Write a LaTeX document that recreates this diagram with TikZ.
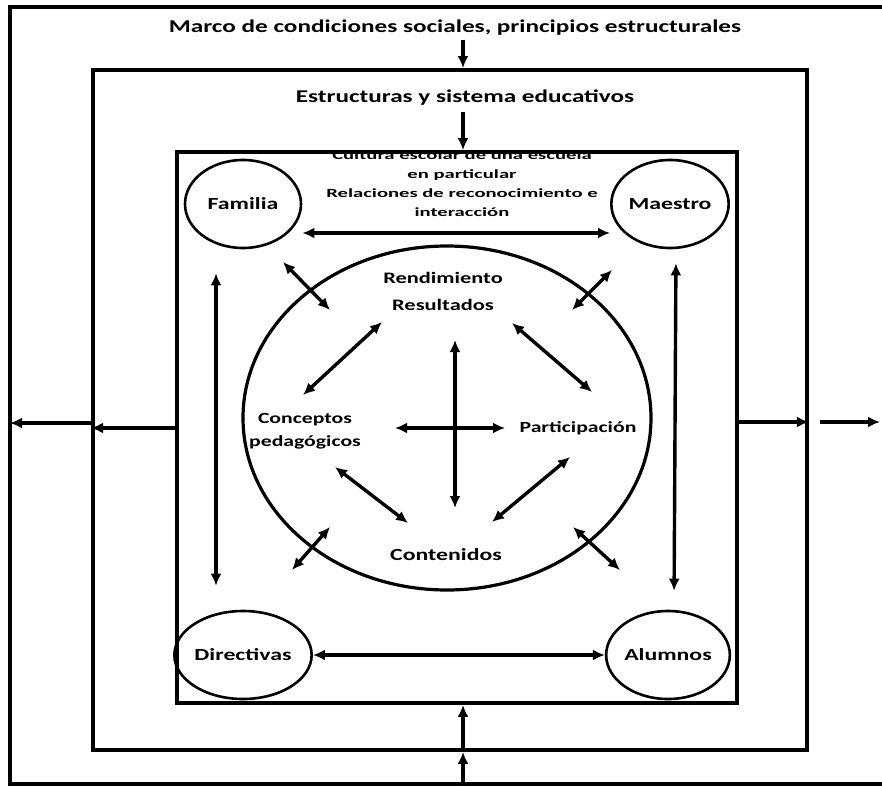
\documentclass[tikz,border=0pt]{standalone}
\usepackage{fontspec}
\setmainfont{Carlito}[FakeStretch=1.4]
\newfontfamily\cultfont{Carlito}[FakeStretch=1.65]
\usetikzlibrary{arrows.meta,shapes.geometric,calc}

\begin{document}
\begin{tikzpicture}[x=1pt,y=-1pt,>={Latex[length=12pt,width=11pt]},
    frame/.style={draw,line width=3.8pt,inner sep=0pt},
    actor/.style={ellipse,draw,line width=2.6pt,minimum width=116pt,minimum height=88pt,inner sep=0pt,font=\bfseries\fontsize{17}{20}\selectfont},
    lbl/.style={inner sep=0pt,font=\bfseries\fontsize{18}{21}\selectfont},
    inlbl/.style={inner sep=0pt,align=center,font=\bfseries\fontsize{16}{27}\selectfont},
    link/.style={<->,line width=3.4pt},
    flow/.style={->,line width=3.4pt}]
    \useasboundingbox (0,0) rectangle (882,786);

    % marcos
    \coordinate (otl) at (10,7);
    \coordinate (obl) at (10,784);
    \draw[line width=3.4pt] (882,7) -- (otl) -- (obl) -- (882,784);
    \node[frame,minimum width=714pt,minimum height=680pt] (middle) at (450,410) {};
    \node[frame,minimum width=560pt,minimum height=551pt] (inner) at (457,427.5) {};

    \node[lbl] (marco) at (455,28) {Marco de condiciones sociales, principios estructurales};
    \node[lbl] (estr) at (465,98) {Estructuras y sistema educativos};
    \node[inner sep=0pt,align=center,font=\cultfont\bfseries\fontsize{12.5}{19}\selectfont] (cult) at (462,184)
      {Cultura escolar de una escuela\\en particular\\Relaciones de reconocimiento e\\interacción};

    \coordinate (tarr) at (463,40);
    \coordinate (marr) at (463,112);
    \coordinate (barr) at (463,786);
    \draw[flow] (tarr) -- (tarr |- middle.north);
    \draw[flow] (marr) -- (marr |- inner.north);
    \draw[flow] (barr) -- (barr |- middle.south);
    \draw[flow] (barr |- middle.south) -- (barr |- inner.south);

    \coordinate (larr) at (0,428);
    \coordinate (larr2) at (0,423);
    \draw[flow] (larr -| inner.west) -- (larr -| middle.west);
    \draw[flow] (larr2 -| middle.west) -- (larr2 -| otl);
    \coordinate (rarr) at (0,422);
    \coordinate (rgap) at ($(rarr -| middle.east)+(11,0)$);
    \coordinate (rend) at (880,422);
    \draw[flow] (rarr -| inner.east) -- (rarr -| middle.east);
    \draw[flow] (rgap) -- (rend);

    % actores
    \node[actor] (fam) at (243,204) {Familia};
    \node[actor] (mae) at (670,204) {Maestro};
    \node[actor] (dir) at (243,655) {Directivas};
    \node[actor] (alu) at (668,655) {Alumnos};

    \node[ellipse,draw,line width=3.2pt,minimum width=408pt,minimum height=344pt] (core) at (447,418) {};
    \node[inlbl] (rend) at (443,291) {Rendimiento\\Resultados};
    \node[inlbl,font=\bfseries\fontsize{15.5}{23}\selectfont] (conc) at (305,431) {Conceptos\\pedagógicos};
    \node[inlbl,font=\bfseries\fontsize{15.5}{23}\selectfont] (part) at (578,428) {Participación};
    \node[inlbl,font=\bfseries\fontsize{17}{20}\selectfont] (cont) at (446,555) {Contenidos};

    \draw[link] ([yshift=-29pt]fam.east) -- ([yshift=-29pt]mae.west);
    \draw[link] (dir.east) -- (alu.west);
    \draw[link,shorten <=24pt,shorten >=24pt] ([xshift=-27pt]fam.south) -- ([xshift=-27pt]dir.north);
    \draw[link,shorten <=14pt,shorten >=19pt] ([xshift=6pt]mae.south) -- ([xshift=6pt]alu.north);

    % diagonales
    \coordinate (fa) at (283,262); \coordinate (fb) at (330,310);
    \coordinate (ma) at (612,270); \coordinate (mb) at (572,310);
    \coordinate (da) at (292,570); \coordinate (db) at (330,527);
    \coordinate (aa) at (620,570); \coordinate (ab) at (573,527);
    \draw[link] (fa) -- (fb);
    \draw[link] (ma) -- (mb);
    \draw[link] (da) -- (db);
    \draw[link] (aa) -- (ab);

    \coordinate (r1) at (382,322); \coordinate (c1) at (303,395);
    \coordinate (r2) at (512,323); \coordinate (p2) at (592,392);
    \coordinate (c3) at (335,467); \coordinate (t3) at (408,523);
    \coordinate (p4) at (570,457); \coordinate (t4) at (492,522);
    \draw[link] (r1) -- (c1);
    \draw[link] (r2) -- (p2);
    \draw[link] (c3) -- (t3);
    \draw[link] (p4) -- (t4);

    \coordinate (vt) at (455,340); \coordinate (vb) at (455,508);
    \coordinate (hl) at (395,428); \coordinate (hr) at (505,428);
    \draw[link] (vt) -- (vb);
    \draw[link] (hl) -- (hr);
  \end{tikzpicture}
\end{document}
